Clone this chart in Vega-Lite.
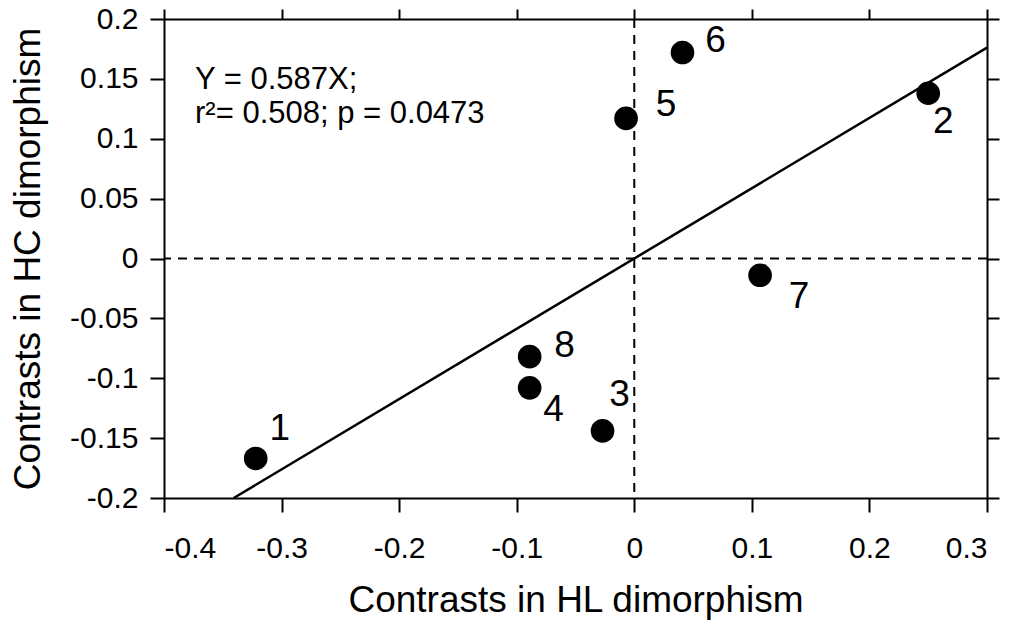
{
  "$schema": "https://vega.github.io/schema/vega-lite/v6.json",
  "autosize": "none",
  "width": 823,
  "height": 479,
  "padding": {"left": 164, "top": 19, "right": 28, "bottom": 128},
  "background": "white",
  "config": {
    "view": {"stroke": null},
    "font": "Liberation Sans",
    "axis": {
      "grid": false,
      "domainColor": "black",
      "domainWidth": 2,
      "tickColor": "black",
      "tickWidth": 2,
      "tickSize": 14,
      "labelFont": "Liberation Sans",
      "labelFontSize": 30,
      "labelFontWeight": "normal",
      "labelColor": "black",
      "titleFont": "Liberation Sans",
      "titleFontSize": 37,
      "titleFontWeight": "normal",
      "titleColor": "black"
    }
  },
  "datasets": {
    "pts": [
      {"id": "1", "x": -0.322, "y": -0.167},
      {"id": "2", "x": 0.250, "y": 0.138},
      {"id": "3", "x": -0.027, "y": -0.144},
      {"id": "4", "x": -0.089, "y": -0.108},
      {"id": "5", "x": -0.007, "y": 0.117},
      {"id": "6", "x": 0.041, "y": 0.172},
      {"id": "7", "x": 0.107, "y": -0.014},
      {"id": "8", "x": -0.089, "y": -0.082}
    ],
    "fit": [
      {"x": -0.3407, "y": -0.2},
      {"x": 0.3, "y": 0.1761}
    ],
    "note": [
      {"line": 1, "x": -0.3736, "y": 0.1415, "text": "Y = 0.587X;"},
      {"line": 2, "x": -0.3736, "y": 0.1132, "text": "r²= 0.508; p = 0.0473"}
    ],
    "zero": [{"v": 0}]
  },
  "resolve": {"axis": {"x": "independent", "y": "independent"}},
  "layer": [
    {
      "data": {"name": "zero"},
      "mark": {"type": "rule", "color": "black", "strokeWidth": 2, "strokeDash": [9, 7]},
      "encoding": {
        "x": {"field": "v", "type": "quantitative", "axis": null, "scale": {"domain": [-0.4, 0.3], "nice": false, "zero": false}}
      }
    },
    {
      "data": {"name": "zero"},
      "mark": {"type": "rule", "color": "black", "strokeWidth": 2, "strokeDash": [9, 7]},
      "encoding": {
        "y": {"field": "v", "type": "quantitative", "axis": null, "scale": {"domain": [-0.2, 0.2], "nice": false, "zero": false}}
      }
    },
    {
      "data": {"name": "fit"},
      "mark": {"type": "line", "color": "black", "strokeWidth": 2.5},
      "encoding": {
        "x": {"field": "x", "type": "quantitative", "axis": {"orient": "top", "values": [-0.4, -0.3, -0.2, -0.1, 0, 0.1, 0.2, 0.3], "labels": false, "title": null, "tickSize": 10}},
        "y": {"field": "y", "type": "quantitative", "axis": {"orient": "right", "values": [-0.2, -0.15, -0.1, -0.05, 0, 0.05, 0.1, 0.15, 0.2], "labels": false, "title": null, "tickSize": 12}}
      }
    },
    {
      "data": {"name": "pts"},
      "mark": {"type": "circle", "color": "black", "opacity": 1, "size": 560},
      "encoding": {
        "x": {"field": "x", "type": "quantitative", "scale": {"domain": [-0.4, 0.3], "nice": false, "zero": false},
          "axis": {"orient": "bottom", "values": [-0.4, -0.3, -0.2, -0.1, 0, 0.1, 0.2, 0.3], "labelExpr": "toString(datum.value)", "labelPadding": 21, "title": "Contrasts in HL dimorphism", "titlePadding": 19}},
        "y": {"field": "y", "type": "quantitative", "scale": {"domain": [-0.2, 0.2], "nice": false, "zero": false},
          "axis": {"orient": "left", "values": [-0.2, -0.15, -0.1, -0.05, 0, 0.05, 0.1, 0.15, 0.2], "labelExpr": "toString(datum.value)", "labelPadding": 12, "title": "Contrasts in HC dimorphism", "titlePadding": 22}}
      }
    },
    {"data": {"name": "pts"}, "transform": [{"filter": "datum.id == '1'"}], "mark": {"type": "text", "fontSize": 37, "align": "center", "baseline": "middle", "dx": 24, "dy": -29, "color": "black"}, "encoding": {"x": {"field": "x", "type": "quantitative", "axis": null}, "y": {"field": "y", "type": "quantitative", "axis": null}, "text": {"field": "id"}}},
    {"data": {"name": "pts"}, "transform": [{"filter": "datum.id == '2'"}], "mark": {"type": "text", "fontSize": 37, "align": "center", "baseline": "middle", "dx": 15, "dy": 29, "color": "black"}, "encoding": {"x": {"field": "x", "type": "quantitative", "axis": null}, "y": {"field": "y", "type": "quantitative", "axis": null}, "text": {"field": "id"}}},
    {"data": {"name": "pts"}, "transform": [{"filter": "datum.id == '3'"}], "mark": {"type": "text", "fontSize": 37, "align": "center", "baseline": "middle", "dx": 17, "dy": -36, "color": "black"}, "encoding": {"x": {"field": "x", "type": "quantitative", "axis": null}, "y": {"field": "y", "type": "quantitative", "axis": null}, "text": {"field": "id"}}},
    {"data": {"name": "pts"}, "transform": [{"filter": "datum.id == '4'"}], "mark": {"type": "text", "fontSize": 37, "align": "center", "baseline": "middle", "dx": 24, "dy": 22, "color": "black"}, "encoding": {"x": {"field": "x", "type": "quantitative", "axis": null}, "y": {"field": "y", "type": "quantitative", "axis": null}, "text": {"field": "id"}}},
    {"data": {"name": "pts"}, "transform": [{"filter": "datum.id == '5'"}], "mark": {"type": "text", "fontSize": 37, "align": "center", "baseline": "middle", "dx": 40, "dy": -13, "color": "black"}, "encoding": {"x": {"field": "x", "type": "quantitative", "axis": null}, "y": {"field": "y", "type": "quantitative", "axis": null}, "text": {"field": "id"}}},
    {"data": {"name": "pts"}, "transform": [{"filter": "datum.id == '6'"}], "mark": {"type": "text", "fontSize": 37, "align": "center", "baseline": "middle", "dx": 33, "dy": -12, "color": "black"}, "encoding": {"x": {"field": "x", "type": "quantitative", "axis": null}, "y": {"field": "y", "type": "quantitative", "axis": null}, "text": {"field": "id"}}},
    {"data": {"name": "pts"}, "transform": [{"filter": "datum.id == '7'"}], "mark": {"type": "text", "fontSize": 37, "align": "center", "baseline": "middle", "dx": 39, "dy": 22, "color": "black"}, "encoding": {"x": {"field": "x", "type": "quantitative", "axis": null}, "y": {"field": "y", "type": "quantitative", "axis": null}, "text": {"field": "id"}}},
    {"data": {"name": "pts"}, "transform": [{"filter": "datum.id == '8'"}], "mark": {"type": "text", "fontSize": 37, "align": "center", "baseline": "middle", "dx": 35, "dy": -11, "color": "black"}, "encoding": {"x": {"field": "x", "type": "quantitative", "axis": null}, "y": {"field": "y", "type": "quantitative", "axis": null}, "text": {"field": "id"}}},
    {
      "data": {"name": "note"},
      "mark": {"type": "text", "fontSize": 31, "align": "left", "baseline": "alphabetic", "color": "black"},
      "encoding": {
        "x": {"field": "x", "type": "quantitative", "axis": null},
        "y": {"field": "y", "type": "quantitative", "axis": null},
        "text": {"field": "text"}
      }
    }
  ]
}
